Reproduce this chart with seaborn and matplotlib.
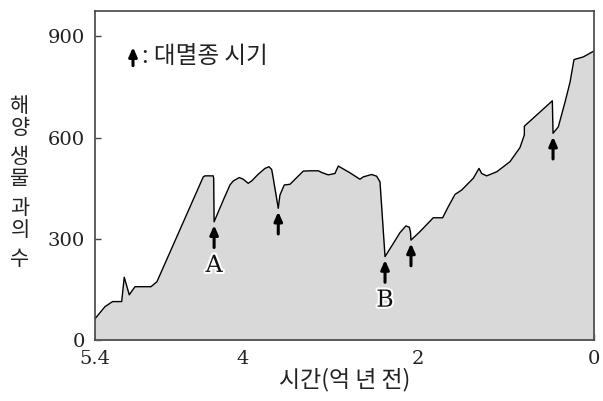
import numpy as np
import pandas as pd
import matplotlib
matplotlib.use("Agg")
import matplotlib.pyplot as plt
import matplotlib.patheffects as pe
import seaborn as sns

# ---- data ----
time_ga = [5.677, 5.617, 5.560, 5.473, 5.370, 5.341, 5.284, 5.219, 5.037, 4.969,
           4.443, 4.424, 4.330, 4.325, 4.320, 4.216, 4.140, 4.102, 4.034, 3.989,
           3.932, 3.893, 3.818, 3.742, 3.697, 3.666, 3.648, 3.591, 3.572, 3.523,
           3.458, 3.307, 3.231, 3.136, 3.098, 3.023, 2.947, 2.909, 2.776, 2.663,
           2.625, 2.530, 2.473, 2.435, 2.378, 2.284, 2.208, 2.140, 2.102, 2.089,
           2.083, 1.981, 1.830, 1.723, 1.659, 1.583, 1.507, 1.375, 1.310, 1.280,
           1.223, 1.109, 0.958, 0.844, 0.795, 0.795, 0.477, 0.469, 0.409, 0.333,
           0.276, 0.231, 0.125, 0.000]
families = [63, 82, 100, 115, 115, 187, 135, 159, 159, 174,
            484, 487, 487, 480, 351, 415, 460, 472, 482, 477,
            465, 472, 492, 509, 514, 506, 480, 391, 430, 460,
            462, 501, 502, 502, 497, 490, 494, 516, 496, 477,
            484, 491, 486, 469, 248, 287, 319, 339, 335, 321,
            297, 322, 363, 363, 396, 432, 445, 480, 509, 494,
            487, 499, 529, 571, 608, 634, 709, 613, 632, 705,
            764, 831, 839, 857]

extinction_time = [4.320, 3.591, 2.378, 2.083, 0.469]
extinction_trough = [351, 391, 248, 297, 613]
extinction_label = ["A", "", "B", "", ""]

x_ticks = [5.677, 4, 2, 0]
x_tick_labels = ["5.4", "4", "2", "0"]
y_ticks = [0, 300, 600, 900]

df = pd.DataFrame({"time": time_ga, "families": families})

# ---- figure ----
sns.set_theme(style="ticks")
plt.rcParams["font.family"] = ["Noto Sans CJK KR", "DejaVu Sans"]

fig = plt.figure(figsize=(6.03, 4.01), dpi=100)
ax = fig.add_axes([0.157, 0.151, 0.8286, 0.8217])

ax.fill_between(df["time"], df["families"], 0, color="#d9d9d9", linewidth=0, zorder=1)
sns.lineplot(data=df, x="time", y="families", sort=False, estimator=None,
             color="black", linewidth=1.0, ax=ax, zorder=2)

ax.set_xlim(x_ticks[0], 0)
ax.set_ylim(0, 975)

ax.set_xticks(x_ticks)
ax.set_xticklabels(x_tick_labels)
ax.set_yticks(y_ticks)
ax.set_yticklabels([str(v) for v in y_ticks])
ax.tick_params(direction="in", length=4, width=1, color="#444444",
               labelsize=14, pad=7)
for lab in ax.get_xticklabels() + ax.get_yticklabels():
    lab.set_family("DejaVu Serif")
    lab.set_color("#222222")

for sp in ax.spines.values():
    sp.set_visible(True)
    sp.set_color("#444444")
    sp.set_linewidth(1.2)

ax.set_xlabel("시간(억 년 전)", fontsize=16.5, labelpad=0, color="#222222")
ax.set_ylabel("")

# y label: stacked characters
words = ["해양", "생물", "과의", "수"]
ypix = 106
for w in words:
    for ch in w:
        fig.text(20 / 603, 1 - ypix / 401, ch, ha="center", va="center",
                 fontsize=15, color="#222222")
        ypix += 21.5
    ypix += 8

# extinction arrows
for t, tr, lab in zip(extinction_time, extinction_trough, extinction_label):
    tip = tr - 10
    tail = tip - 66
    ax.annotate("", xy=(t, tip), xytext=(t, tail),
                arrowprops=dict(arrowstyle="-|>,head_length=0.45,head_width=0.2",
                                color="black", lw=2.2, shrinkA=0, shrinkB=0),
                zorder=4)
    if lab:
        ax.text(t, tail - 53, lab, ha="center", va="center", fontsize=17,
                family="DejaVu Serif", color="#111111", zorder=4,
                path_effects=[pe.withStroke(linewidth=3, foreground="white")])

# legend-like key
ax.annotate("", xy=(0.0767, 0.890), xytext=(0.0767, 0.834),
            xycoords="axes fraction", textcoords="axes fraction",
            arrowprops=dict(arrowstyle="-|>,head_length=0.45,head_width=0.2",
                            color="black", lw=2.2, shrinkA=0, shrinkB=0))
ax.text(0.095, 0.861, ": 대멸종 시기", transform=ax.transAxes, ha="left",
        va="center", fontsize=17, color="#222222")

fig.savefig("out.png", dpi=100)
